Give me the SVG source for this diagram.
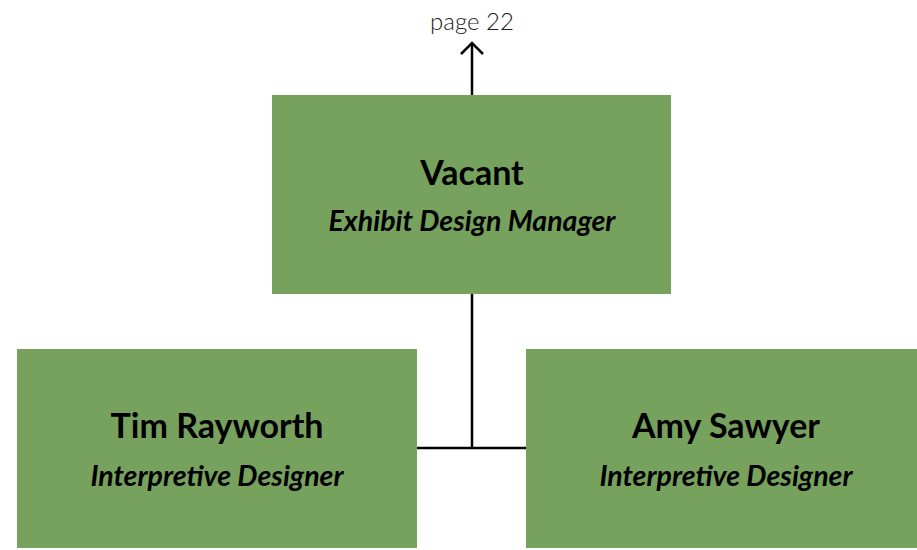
<svg xmlns="http://www.w3.org/2000/svg" width="917" height="550" viewBox="0 0 917 550">
<defs>
<style>
.box{fill:#76A25E}
.name{font-family:Lato,"Noto Sans",sans-serif;font-weight:bold;font-size:34px;fill:#000;text-anchor:middle}
.role{font-family:Lato,"Noto Sans",sans-serif;font-weight:bold;font-style:italic;font-size:28.5px;fill:#000;text-anchor:middle}
.lbl{font-family:Lato,"Noto Sans",sans-serif;font-weight:300;font-size:24px;fill:#222;text-anchor:middle}
.ln{stroke:#000;stroke-width:2.5;fill:none}
</style>
</defs>
<g id="connectors">
<line class="ln" x1="472" y1="95" x2="472" y2="43"/>
<polyline class="ln" points="461,54 472,43 483,54"/>
<line class="ln" x1="472" y1="294" x2="472" y2="448"/>
<line class="ln" x1="417" y1="448" x2="526" y2="448"/>
</g>
<g id="label">
<text class="lbl" x="472" y="30">page 22</text>
</g>
<g id="vacant">
<rect class="box" x="272" y="95" width="399" height="199"/>
<text class="name" x="472" y="185">Vacant</text>
<text class="role" x="472" y="231">Exhibit Design Manager</text>
</g>
<g id="tim">
<rect class="box" x="17" y="349" width="400" height="199"/>
<text class="name" x="217" y="438">Tim Rayworth</text>
<text class="role" x="217" y="486">Interpretive Designer</text>
</g>
<g id="amy">
<rect class="box" x="526" y="349" width="391" height="199"/>
<text class="name" x="726" y="438">Amy Sawyer</text>
<text class="role" x="726" y="486">Interpretive Designer</text>
</g>
</svg>
